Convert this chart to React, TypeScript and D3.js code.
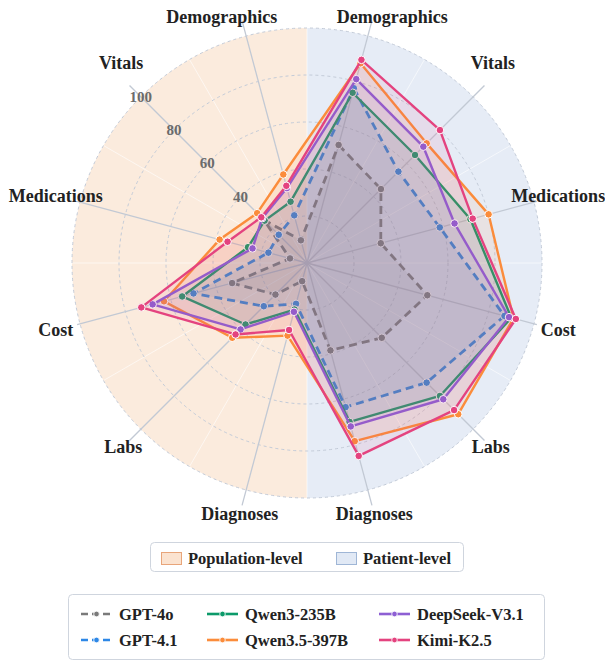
import React from 'react';
import * as d3 from 'd3';

// axes clockwise from the top; right half = patient-level, left half = population-level
const axisLabels = [
  'Demographics', 'Vitals', 'Medications', 'Cost', 'Labs', 'Diagnoses',
  'Diagnoses', 'Labs', 'Cost', 'Medications', 'Vitals', 'Demographics',
];
const ringTicks = [20, 40, 60, 80, 100];
const tickLabels = [40, 60, 80, 100];

const modelNames = ['GPT-4o', 'GPT-4.1', 'Qwen3-235B', 'Qwen3.5-397B', 'DeepSeek-V3.1', 'Kimi-K2.5'];
const gpt4o = [52, 44.5, 32.5, 53, 45, 38.5, 8, 19, 33, 7.5, 26, 10];
const gpt41 = [77, 55, 58.5, 87, 72, 63.5, 18, 26, 50, 17, 17, 21];
const qwen3 = [75, 65, 72, 90, 80, 70, 20.5, 37, 55, 26, 25.5, 27];
const qwen35 = [88, 72, 80, 91, 91, 78.5, 32, 45, 63, 38.5, 30, 39];
const deepseek = [81, 70, 65, 89, 82, 72, 21.5, 40, 68, 24, 27, 33];
const kimi = [89.5, 80, 73, 92, 88.5, 85, 29.5, 43, 73, 35, 27.5, 34];

const seriesValues = [gpt4o, gpt41, qwen3, qwen35, deepseek, kimi];
const COLORS = ['#7a7a7a', '#2d87e6', '#0c9a6a', '#fb8c3b', '#8d5fd3', '#e4437f'];
const DASHED = [true, true, false, false, false, false];

const W = 605;
const H = 664;
const CX = 307;
const CY = 263;
const R = 235;
const FONT = '"Liberation Serif", "Times New Roman", serif';

// small nudges so the long labels sit like in the source
const LABEL_NUDGE: Record<number, [number, number]> = {
  0: [18, 5], 1: [2, -16], 10: [-2, -16], 11: [-18, 5],
};

export default function App() {
  const n = axisLabels.length;
  const angle = d3.scaleLinear().domain([0, n]).range([0, 2 * Math.PI]);
  const axisAngle = (i: number) => angle(i) + Math.PI / n;
  const r = d3.scaleLinear().domain([0, 100]).range([0, R]);
  const px = (a: number, d: number) => CX + Math.sin(a) * d;
  const py = (a: number, d: number) => CY - Math.cos(a) * d;

  const halfArc = d3.arc<any>().innerRadius(0).outerRadius(R);
  const radial = d3
    .lineRadial<number>()
    .angle((_, i) => axisAngle(i))
    .radius((v) => r(v))
    .curve(d3.curveLinearClosed);

  const legendCols = [
    [0, 1],
    [2, 3],
    [4, 5],
  ];
  const colX = [81, 207, 379];
  const rowY = [614, 640];

  return (
    <svg
      width={W}
      height={H}
      style={{ position: 'absolute', left: 0, top: 0, background: '#fff' }}
      fontFamily={FONT}
    >
      <g transform={`translate(${CX},${CY})`}>
        <path d={halfArc({ startAngle: -Math.PI, endAngle: 0 }) as string} fill="#fbebdd" />
        <path d={halfArc({ startAngle: 0, endAngle: Math.PI }) as string} fill="#e6ecf6" />
      </g>

      {/* faint polar grid */}
      {d3.range(12).map((k) => {
        const a = (k * Math.PI) / 6;
        return (
          <line key={'wg' + k} x1={CX} y1={CY} x2={px(a, R)} y2={py(a, R)}
            stroke="#ffffff" strokeOpacity={0.6} strokeWidth={1} />
        );
      })}

      {ringTicks.map((t) => (
        <circle key={'ring' + t} cx={CX} cy={CY} r={r(t)} fill="none"
          stroke="#c3cbd8" strokeWidth={1} strokeDasharray="3,3" />
      ))}

      {axisLabels.map((_, i) => {
        const a = axisAngle(i);
        const len = i % 6 === 3 || i % 6 === 2 ? R + 3 : R + 16;
        return (
          <line key={'ax' + i} x1={CX} y1={CY} x2={px(a, len)} y2={py(a, len)}
            stroke="#c2c9d4" strokeWidth={1.3} />
        );
      })}

      {tickLabels.map((t) => {
        const a = axisAngle(10);
        return (
          <text key={'tl' + t} x={px(a, r(t))} y={py(a, r(t))} textAnchor="middle"
            dominantBaseline="central" fontSize={15} fontWeight="bold" fill="#6b6b6b">
            {t}
          </text>
        );
      })}

      {seriesValues.map((vals, s) => (
        <g key={'s' + s} transform={`translate(${CX},${CY})`}>
          <path d={radial(vals) as string} fill={COLORS[s]} fillOpacity={0.1}
            stroke={COLORS[s]} strokeWidth={DASHED[s] ? 2.8 : 2.4}
            strokeDasharray={DASHED[s] ? '8,5' : undefined} strokeLinejoin="round" />
          {vals.map((v, i) => (
            <circle key={i} cx={px(axisAngle(i), r(v)) - CX} cy={py(axisAngle(i), r(v)) - CY}
              r={3.8} fill={COLORS[s]} stroke="#fff" strokeWidth={1} />
          ))}
        </g>
      ))}

      {axisLabels.map((lab, i) => {
        const a = axisAngle(i);
        const nudge = LABEL_NUDGE[i] || [0, 0];
        return (
          <text key={'lab' + i} x={px(a, 260) + nudge[0]} y={py(a, 260) + nudge[1]}
            textAnchor="middle" dominantBaseline="central" fontSize={18}
            fontWeight="bold" fill="#222">
            {lab}
          </text>
        );
      })}

      {/* region legend */}
      <rect x={150.5} y={542.5} width={313} height={29} rx={4} fill="#fff" stroke="#cfd5de" />
      <rect x={161.5} y={552.5} width={20} height={12} fill="#fbe3d0" stroke="#e8a57a" />
      <text x={188} y={558.5} dominantBaseline="central" fontSize={16.5} fontWeight="bold" fill="#222">
        Population-level
      </text>
      <rect x={336.5} y={552.5} width={20} height={12} fill="#e1e9f5" stroke="#9fb6d6" />
      <text x={363} y={558.5} dominantBaseline="central" fontSize={16.5} fontWeight="bold" fill="#222">
        Patient-level
      </text>

      {/* model legend */}
      <rect x={68.5} y={594.5} width={476} height={65} rx={4} fill="#fff" stroke="#cfd5de" />
      {legendCols.map((col, c) =>
        col.map((s, rI) => (
          <g key={'lg' + s}>
            <line x1={colX[c]} x2={colX[c] + 31} y1={rowY[rI]} y2={rowY[rI]}
              stroke={COLORS[s]} strokeWidth={2.6}
              strokeDasharray={DASHED[s] ? '7,4' : undefined} />
            <circle cx={colX[c] + 15.5} cy={rowY[rI]} r={2.8} fill={COLORS[s]} stroke="#fff" strokeWidth={0.8} />
            <text x={colX[c] + 38} y={rowY[rI]} dominantBaseline="central" fontSize={16.5}
              fontWeight="bold" fill="#222">
              {modelNames[s]}
            </text>
          </g>
        ))
      )}
    </svg>
  );
}
